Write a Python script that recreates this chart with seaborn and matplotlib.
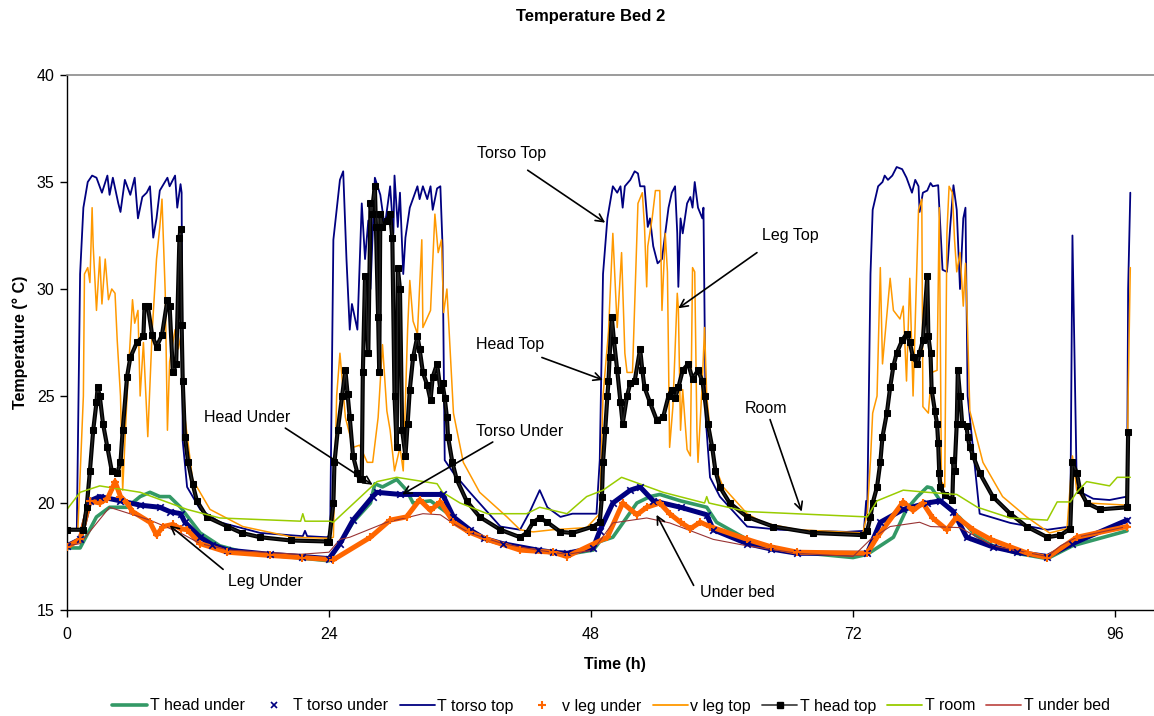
import matplotlib
matplotlib.use('Agg')
import matplotlib.pyplot as plt
import seaborn as sns
from matplotlib.lines import Line2D

# time axis in hours, values in deg C
HEAD_UNDER_T = [0, 1.2, 2.7, 3.9, 5.5, 6.7, 7.6, 8.5, 9.4, 10.4, 11.3, 12.2, 14.0, 15.8, 17.7, 21.0, 24.0,
                25.0, 26.2, 27.8, 28.2, 28.9, 30.2, 31.1, 31.7, 33.3, 34.4, 35.4, 36.9, 38.2, 39.9, 43.1,
                45.8, 48.2, 48.8, 50.0, 52.2, 53.4, 54.3, 56.2, 58.6, 59.5, 62.3, 64.5, 66.9, 72.0, 73.3,
                75.7, 76.9, 77.9, 78.8, 79.2, 80.0, 81.8, 83.2, 84.8, 87.0, 89.8, 92.1, 97.1]
HEAD_UNDER = [17.9, 17.9, 19.35, 19.8, 19.8, 20.3, 20.5, 20.3, 20.3, 19.8, 19.2, 18.6, 18.0, 17.75, 17.6,
              17.45, 17.3,
              18.1, 19.1, 20.0, 20.9, 20.75, 21.1, 20.6, 20.0, 20.1, 19.7, 19.3, 18.7, 18.35, 18.1, 17.8,
              17.6, 17.8, 18.2, 18.4, 20.0, 20.3, 20.4, 20.1, 19.8, 19.1, 18.3, 17.9, 17.7, 17.45, 17.6,
              18.4, 19.7, 20.3, 20.75, 20.7, 20.1, 19.3, 18.5, 18.0, 17.65, 17.4, 18.0, 18.7]

TORSO_UNDER_T = [0, 1.2, 2.1, 3.0, 4.9, 6.7, 8.5, 9.4, 10.4, 10.8, 12.2, 13.3, 14.7, 18.6, 21.5, 24.0,
                 25.0, 26.2, 28.0, 28.4, 30.5, 34.4, 35.4, 36.9, 38.2, 39.9, 43.1, 44.5, 45.8, 48.2, 48.8,
                 50.0, 51.6, 52.5, 53.7, 56.2, 58.6, 59.2, 62.3, 64.5, 66.9, 73.3, 74.5, 76.6, 78.8, 80.0,
                 81.2, 82.4, 84.8, 87.0, 89.8, 92.1, 97.1]
TORSO_UNDER = [18.0, 18.3, 20.1, 20.3, 20.1, 19.9, 19.8, 19.6, 19.5, 19.1, 18.4, 18.05, 17.8, 17.6, 17.5,
               17.4,
               18.1, 19.2, 20.3, 20.5, 20.4, 20.4, 19.35, 18.75, 18.35, 18.1, 17.8, 17.7, 17.65, 17.9, 18.7,
               20.0, 20.6, 20.75, 20.1, 19.8, 19.45, 18.75, 18.1, 17.85, 17.65, 17.65, 19.1, 19.7, 20.0,
               20.1, 19.6, 18.4, 17.95, 17.7, 17.5, 18.1, 19.2]

TORSO_TOP_T = [0, 0.9, 1.2, 1.5, 1.9, 2.3, 2.7, 3.2, 3.7, 3.9, 4.2, 4.7, 4.9, 5.3, 5.8, 6.2, 6.5, 6.9,
               7.3, 7.6, 7.9, 8.2, 8.5, 9.2, 9.4, 9.9, 10.1, 10.4, 10.5, 10.6, 11.0, 12.2, 14.0, 17.7,
               21.6, 21.8, 22.0, 23.8,
               24.1, 24.4, 25.0, 25.3, 25.6, 25.9, 26.1, 26.6, 27.0, 27.3, 27.6, 27.8, 28.2, 28.7, 29.1,
               29.6, 29.9, 30.0, 30.3, 30.5, 30.8, 31.0, 31.4, 32.1, 32.3, 32.6, 33.0, 33.3, 33.5, 33.9,
               34.2, 34.4, 34.6, 35.4, 36.9, 39.7, 41.5, 42.4, 43.3, 44.0, 45.2, 46.3, 48.5,
               48.8, 49.1, 49.5, 50.0, 50.4, 50.7, 50.9, 51.1, 51.6, 52.0, 52.3, 52.5, 52.9, 53.2, 53.4,
               53.7, 54.1, 54.5, 54.8, 55.1, 55.4, 55.7, 55.9, 56.0, 56.2, 56.4, 56.8, 57.1, 57.3, 57.5,
               57.8, 58.2, 58.3, 58.5, 58.9, 59.8, 62.3, 65.3, 71.4, 73.0, 73.2, 73.3,
               73.6, 73.8, 74.3, 74.7, 74.9, 75.2, 75.6, 76.0, 76.5, 76.9, 77.4, 77.7, 78.0, 78.1, 78.4,
               78.8, 79.1, 79.3, 79.8, 80.0, 80.2, 80.6, 80.7, 80.9, 81.2, 81.5, 81.8, 82.1, 82.3, 82.5,
               83.6, 86.4, 89.8, 91.9, 92.1, 92.5, 94.0, 95.5, 97.1, 97.2, 97.4]
TORSO_TOP = [18.7, 18.8, 30.7, 33.8, 35.0, 35.3, 35.2, 34.5, 35.3, 34.4, 35.2, 34.0, 33.6, 35.1, 34.4, 35.2,
             33.3, 34.3, 34.5, 34.8, 32.4, 33.3, 34.6, 35.2, 34.8, 35.3, 33.8, 34.9, 34.5, 22.9, 20.75,
             19.7, 19.1, 18.6, 18.45, 18.7, 18.45, 18.4,
             18.5, 32.3, 35.1, 35.5, 31.4, 28.1, 29.3, 28.1, 34.0, 31.4, 33.2, 30.0, 35.2, 34.4, 32.9,
             34.8, 32.6, 35.3, 32.9, 34.5, 30.7, 32.4, 33.8, 34.8, 34.2, 34.8, 34.2, 34.8, 33.7, 34.7,
             34.8, 32.0, 22.0, 21.4, 20.5, 18.9, 18.75, 19.6, 20.6, 19.8, 19.35, 19.5, 19.5,
             22.0, 30.7, 33.3, 34.8, 34.5, 34.8, 33.8, 34.8, 35.1, 35.5, 35.4, 34.8, 34.8, 32.9, 33.3,
             32.0, 31.2, 31.4, 32.6, 33.8, 34.5, 34.8, 32.6, 30.1, 33.3, 32.6, 34.0, 34.3, 33.8, 35.0,
             33.8, 33.3, 33.8, 24.0, 21.2, 20.3, 18.9, 18.75, 18.65, 18.7, 20.1, 19.5,
             30.7, 33.7, 34.8, 35.0, 35.3, 35.1, 35.3, 35.7, 35.6, 35.2, 34.5, 35.1, 34.8, 33.6, 34.5,
             34.6, 34.95, 34.8, 34.85, 32.9, 30.9, 30.8, 31.4, 32.9, 34.85, 33.7, 30.0, 33.3, 33.8, 25.0,
             19.5, 19.07, 18.75, 18.9, 32.5, 20.6, 20.2, 20.14, 20.3, 30.0, 34.5]

LEG_UNDER_T = [0, 1.2, 2.1, 3.0, 3.7, 4.2, 4.4, 4.9, 5.5, 6.0, 7.6, 8.2, 8.8, 9.7, 10.4, 11.0, 12.2,
               14.7, 18.6, 21.5, 24.4, 27.8, 29.6, 31.1, 32.3, 33.3, 34.2, 35.4, 36.8, 38.5, 41.5, 44.5,
               45.8, 49.5, 50.9, 52.2, 53.1, 54.3, 55.2, 56.2, 57.1, 58.0, 58.9, 62.3, 64.5, 66.9, 73.3,
               74.2, 76.6, 77.5, 78.4, 79.3, 80.6, 81.5, 83.0, 84.6, 86.4, 88.0, 89.8, 92.5, 97.1]
LEG_UNDER = [17.95, 18.3, 20.1, 20.0, 20.2, 20.75, 21.0, 20.3, 20.0, 19.6, 19.1, 18.5, 18.9, 19.0, 18.8,
             18.75, 18.1, 17.7, 17.55, 17.45, 17.35, 18.4, 19.2, 19.35, 20.15, 19.65, 20.05, 19.1, 18.65,
             18.3, 17.8, 17.7, 17.5, 18.4, 20.0, 19.45, 19.8, 20.0, 19.5, 19.1, 18.8, 19.1, 18.9, 18.3,
             17.95, 17.7, 17.65, 18.4, 20.05, 19.65, 20.0, 19.3, 18.75, 19.35, 18.75, 18.3, 17.95, 17.65,
             17.45, 18.4, 18.9]

LEG_TOP_T = [0, 1.0, 1.5, 1.6, 1.9, 2.1, 2.3, 2.4, 2.7, 3.0, 3.2, 3.5, 3.8, 4.1, 4.4, 4.6, 4.9, 5.1, 5.5,
             6.0, 6.2, 6.5, 6.7, 7.0, 7.4, 7.8, 8.2, 8.5, 8.7, 9.0, 9.2, 9.4, 9.9, 10.2, 10.5, 10.8, 11.5,
             13.1, 16.1, 20.7, 24.1,
             24.4, 24.7, 25.0, 25.5, 26.2, 26.8, 27.5, 28.0, 28.5, 28.9, 29.3, 29.6, 30.0, 30.5, 30.8,
             31.2, 31.4, 31.7, 32.1, 32.5, 32.6, 33.3, 33.7, 34.0, 34.3, 34.5, 34.8, 35.4, 36.3, 37.8,
             40.3, 41.5, 42.7, 44.5, 47.6,
             48.8, 49.1, 49.6, 50.0, 50.4, 50.8, 51.1, 51.3, 51.8, 52.3, 52.7, 52.9, 53.1, 53.2, 53.6,
             53.9, 54.3, 54.5, 54.8, 55.0, 55.2, 55.5, 55.9, 56.0, 56.2, 56.4, 56.8, 57.1, 57.3, 57.5,
             57.7, 57.8, 58.2, 58.4, 58.6, 59.2, 60.1, 62.3, 63.8, 66.9, 72.9,
             73.3, 73.6, 73.8, 74.2, 74.5, 74.7, 75.4, 75.7, 76.3, 76.6, 76.9, 77.2, 77.5, 78.0, 78.3,
             78.4, 78.9, 79.2, 79.7, 79.9, 80.1, 80.4, 80.6, 80.8, 81.1, 81.3, 81.5, 81.8, 82.1, 82.3,
             82.5, 82.7, 83.9, 85.7, 87.9, 90.0, 91.6, 92.1, 92.5, 93.4, 97.1, 97.2, 97.4]
LEG_TOP = [18.7, 18.8, 25.0, 30.7, 31.0, 30.3, 33.8, 32.0, 29.0, 31.5, 29.3, 31.4, 29.5, 30.0, 29.8, 27.6,
           25.0, 20.6, 25.0, 29.5, 28.4, 29.0, 25.0, 27.5, 23.1, 28.0, 31.4, 32.9, 34.2, 29.8, 23.4, 26.6,
           28.1, 27.2, 28.0, 24.0, 21.1, 19.7, 18.9, 18.4, 18.35,
           18.4, 25.0, 27.0, 24.0, 22.6, 22.7, 21.9, 21.9, 24.0, 27.4, 24.3, 23.4, 21.5, 22.6, 21.5,
           28.1, 30.4, 28.5, 27.9, 32.3, 28.2, 29.0, 33.5, 31.7, 32.3, 28.9, 30.0, 24.2, 21.9, 20.5,
           19.35, 18.75, 18.65, 18.75, 18.85,
           19.5, 25.0, 28.0, 32.6, 28.2, 31.7, 27.0, 26.1, 26.1, 34.0, 34.5, 32.9, 30.1, 32.0, 33.3,
           34.6, 34.6, 29.0, 32.6, 30.8, 22.6, 24.5, 29.8, 29.1, 23.4, 25.3, 22.5, 22.2, 31.0, 30.8,
           23.4, 21.9, 25.7, 28.2, 25.0, 21.9, 20.75, 19.5, 19.07, 18.75, 18.6,
           19.5, 22.0, 24.2, 25.0, 31.0, 26.5, 30.5, 29.0, 28.6, 29.2, 25.7, 30.5, 25.0, 33.7, 34.2,
           24.5, 24.2, 26.1, 26.2, 33.8, 21.0, 20.75, 32.6, 34.8, 34.5, 32.3, 30.8, 31.7, 29.2, 31.2,
           28.0, 24.3, 21.9, 20.3, 19.35, 18.6, 18.8, 22.2, 20.6, 20.0, 19.9, 25.0, 31.0]

HEAD_TOP_T = [0, 1.5, 1.8, 2.1, 2.4, 2.7, 2.8, 3.0, 3.3, 3.7, 4.1, 4.6, 4.9, 5.1, 5.5, 5.8, 6.4, 7.0,
              7.1, 7.4, 7.8, 8.2, 8.7, 9.2, 9.4, 9.7, 10.0, 10.3, 10.4, 10.5, 10.6, 10.8, 11.1, 11.5,
              11.9, 12.8, 14.7, 16.0, 17.7, 20.5, 23.8,
              24.0, 24.4, 24.5, 24.8, 25.2, 25.5, 25.7, 25.9, 26.2, 26.6, 26.8, 27.0, 27.1, 27.3, 27.6,
              27.8, 27.9, 28.2, 28.3, 28.5, 28.6, 28.7, 28.9, 29.3, 29.6, 29.8, 30.0, 30.2, 30.3, 30.5,
              30.7, 31.0, 31.2, 31.4, 31.7, 32.1, 32.3, 32.6, 33.0, 33.3, 33.5, 33.9, 34.2, 34.4, 34.6,
              34.8, 34.9, 35.3, 35.7, 36.6, 37.8, 39.7, 41.5, 42.1, 42.7, 43.3, 44.0, 45.2, 46.3, 48.2,
              48.8,
              49.0, 49.1, 49.3, 49.5, 49.6, 49.7, 49.9, 50.1, 50.4, 50.7, 50.9, 51.3, 51.6, 52.0, 52.5,
              52.7, 52.9, 53.4, 54.0, 54.6, 55.1, 55.4, 55.7, 56.0, 56.4, 56.9, 57.3, 57.8, 58.2, 58.4,
              58.7, 59.1, 59.4, 59.8, 60.7, 62.3, 64.7, 68.3, 72.9,
              73.3, 73.6, 73.8, 74.2, 74.5, 74.7, 75.1, 75.4, 75.7, 76.0, 76.5, 76.9, 77.2, 77.5, 77.9,
              78.1, 78.4, 78.8, 78.9, 79.1, 79.2, 79.5, 79.7, 79.8, 79.9, 80.0, 80.4, 81.1, 81.2, 81.3,
              81.5, 81.6, 81.8, 82.0, 82.4, 82.5, 82.7, 83.0, 83.6, 84.8, 86.4, 87.9, 89.8, 91.0, 91.9,
              92.1, 92.5, 92.8, 93.4, 94.6, 97.1, 97.2]
HEAD_TOP = [18.75, 18.75, 19.8, 21.5, 23.4, 24.7, 25.4, 25.0, 23.7, 22.6, 21.5, 21.4, 21.9, 23.4, 25.9,
            26.8, 27.5, 27.8, 29.2, 29.2, 27.85, 27.3, 27.85, 29.5, 29.2, 26.1, 26.5, 32.4, 32.8, 28.3,
            25.7, 23.1, 21.9, 20.9, 20.1, 19.35, 18.9, 18.6, 18.4, 18.25, 18.2,
            18.2, 20.0, 21.9, 23.4, 25.0, 26.2, 25.1, 24.0, 22.2, 21.4, 21.1, 21.1, 26.1, 30.6, 27.0,
            34.0, 33.5, 34.8, 32.9, 28.7, 26.1, 33.5, 32.9, 33.2, 33.5, 32.4, 25.0, 22.6, 31.0, 30.0,
            23.4, 22.2, 23.7, 25.3, 26.8, 27.8, 27.2, 26.1, 25.5, 24.8, 25.9, 26.5, 25.3, 25.6, 24.9,
            24.0, 23.1, 21.9, 21.1, 20.1, 19.35, 18.75, 18.4, 18.6, 19.1, 19.3, 19.1, 18.65, 18.6, 18.9,
            19.1,
            20.3, 21.9, 23.4, 25.0, 25.7, 26.8, 28.7, 27.6, 26.2, 24.7, 23.7, 25.0, 25.6, 25.7, 27.2,
            26.2, 25.4, 24.7, 23.9, 24.0, 25.0, 25.3, 24.9, 25.4, 26.2, 26.5, 25.8, 26.2, 25.7, 25.0,
            23.7, 22.6, 21.5, 20.75, 20.0, 19.35, 18.9, 18.6, 18.5,
            18.7, 19.35, 20.0, 20.75, 21.9, 23.1, 24.2, 25.4, 26.4, 27.0, 27.6, 27.9, 27.5, 26.8, 26.5,
            27.0, 27.6, 30.6, 27.8, 27.0, 25.3, 24.3, 23.7, 22.8, 21.4, 20.75, 20.37, 20.14, 22.0, 21.5,
            23.7, 26.2, 25.0, 23.7, 23.6, 23.1, 22.6, 22.2, 21.4, 20.3, 19.5, 18.9, 18.4, 18.5, 18.8,
            21.9, 21.4, 20.6, 20.0, 19.7, 19.8, 23.3]

ROOM_T = [0, 1.2, 3.0, 6.7, 11.0, 14.0, 21.4, 21.6, 21.8, 24.1, 24.4, 28.4, 30.2, 33.9, 34.4, 36.0,
          38.5, 42.1, 43.3, 45.8, 47.6, 49.1, 50.8, 54.6, 58.4, 58.6, 58.8, 62.3, 73.3, 74.2, 76.6, 78.8,
          81.5, 83.4, 86.4, 89.8, 90.7, 91.9, 92.5, 93.4, 95.5, 96.2, 97.4]
ROOM = [19.7, 20.5, 20.8, 20.5, 19.7, 19.3, 19.15, 19.5, 19.15, 19.15, 19.1, 21.0, 21.2, 20.9, 20.5, 20.0,
        19.5, 19.5, 19.8, 19.5, 20.3, 20.6, 21.2, 20.5, 20.0, 20.3, 20.0, 19.6, 19.35, 20.1, 20.6, 20.5,
        20.4, 19.8, 19.3, 19.2, 20.05, 20.05, 20.5, 21.0, 20.8, 21.2, 21.2]

UNDER_BED_T = [0, 1.2, 3.9, 7.6, 10.4, 12.2, 14.9, 21.3, 24.0, 25.0, 25.9, 29.3, 31.4, 32.6, 34.2, 35.5,
               36.9, 39.9, 43.1, 45.8, 48.2, 50.0, 53.1, 55.2, 56.2, 59.2, 62.3, 66.9, 72.0, 73.6, 75.4,
               78.1, 79.1, 81.8, 84.8, 89.8, 91.0, 92.5, 97.1]
UNDER_BED = [18.0, 18.1, 19.8, 19.2, 18.6, 18.1, 17.8, 17.6, 17.7, 18.3, 18.4, 19.1, 19.35, 19.5, 19.45,
             19.0, 18.6, 18.1, 17.8, 17.6, 17.8, 19.07, 19.3, 19.07, 18.88, 18.3, 18.0, 17.65, 17.5, 18.3,
             18.9, 19.1, 18.9, 18.85, 18.0, 17.5, 18.0, 18.4, 18.9]

LABELS = ['T head under', 'T torso under', 'T torso top', 'v leg under',
          'v leg top', 'T head top', 'T room', 'T under bed']
X_TICKS = [0, 24, 48, 72, 96]
Y_TICKS = [15, 20, 25, 30, 35, 40]

# (label, text position, arrow start, arrow tip) in data units
NOTES = [
    ('Torso Top', (40.7, 36.35), (42.2, 35.55), (49.3, 33.1)),
    ('Leg Top', (66.3, 32.5), (63.2, 31.7), (56.0, 29.1)),
    ('Head Top', (40.6, 27.4), (43.5, 26.8), (49.1, 25.75)),
    ('Head Under', (16.5, 24.0), (20.0, 23.5), (28.0, 20.85)),
    ('Torso Under', (41.5, 23.35), (39.0, 22.85), (30.7, 20.4)),
    ('Room', (64.0, 24.4), (64.4, 23.9), (67.3, 19.6)),
    ('Under bed', (61.4, 15.8), (57.4, 16.15), (54.0, 19.45)),
    ('Leg Under', (18.2, 16.35), (14.3, 16.9), (9.4, 18.95)),
]

GREEN = '#339966'
NAVY = '#000080'
ORANGE_RED = '#FF6600'
ORANGE = '#FF9900'
LIME = '#99CC00'
BROWN = '#993333'


def plot_bed(save_path):
    sns.set_theme(style="white")
    plt.rcParams['font.family'] = ['Liberation Sans', 'DejaVu Sans']
    plt.rcParams['text.color'] = 'black'

    fig = plt.figure(figsize=(11.54, 7.16), dpi=100)
    ax = fig.add_axes([67 / 1154, 1 - 610 / 716, 1087 / 1154, 535 / 716])

    sns.lineplot(x=HEAD_UNDER_T, y=HEAD_UNDER, ax=ax, color=GREEN, linewidth=2.6,
                 estimator=None, sort=False)
    # dense marker series drawn as a thick band plus the markers
    sns.lineplot(x=TORSO_UNDER_T, y=TORSO_UNDER, ax=ax, color=NAVY, linewidth=3.6,
                 estimator=None, sort=False)
    sns.scatterplot(x=TORSO_UNDER_T, y=TORSO_UNDER, ax=ax, color=NAVY, marker='x',
                    s=22, linewidth=1.2, zorder=3)
    sns.lineplot(x=TORSO_TOP_T, y=TORSO_TOP, ax=ax, color=NAVY, linewidth=1.3,
                 estimator=None, sort=False)
    sns.lineplot(x=LEG_UNDER_T, y=LEG_UNDER, ax=ax, color=ORANGE_RED, linewidth=3.6,
                 estimator=None, sort=False)
    sns.scatterplot(x=LEG_UNDER_T, y=LEG_UNDER, ax=ax, color=ORANGE_RED, marker='+',
                    s=36, linewidth=1.5, zorder=3)
    sns.lineplot(x=LEG_TOP_T, y=LEG_TOP, ax=ax, color=ORANGE, linewidth=1.1,
                 estimator=None, sort=False)
    sns.lineplot(x=HEAD_TOP_T, y=HEAD_TOP, ax=ax, color='black', linewidth=3.0,
                 estimator=None, sort=False)
    sns.lineplot(x=HEAD_TOP_T, y=HEAD_TOP, ax=ax, color='#222222', linewidth=1.0,
                 marker='s', markersize=5, markeredgecolor='black', markerfacecolor='black',
                 estimator=None, sort=False)
    sns.lineplot(x=ROOM_T, y=ROOM, ax=ax, color=LIME, linewidth=1.1,
                 estimator=None, sort=False)
    sns.lineplot(x=UNDER_BED_T, y=UNDER_BED, ax=ax, color=BROWN, linewidth=0.8,
                 estimator=None, sort=False)

    for text, pos, start, tip in NOTES:
        ax.annotate('', xy=tip, xytext=start,
                    arrowprops=dict(arrowstyle='->', color='black', lw=1.2,
                                    shrinkA=0, shrinkB=0, mutation_scale=14))
        ax.text(pos[0], pos[1], text, fontsize=11.5, ha='center', va='center')

    ax.set_xlim(0, 99.57)
    ax.set_ylim(15, 40)
    ax.set_xticks(X_TICKS)
    ax.set_yticks(Y_TICKS)
    ax.tick_params(axis='both', direction='out', length=5, width=1, colors='black',
                   labelsize=11.5, left=True, bottom=True)
    ax.tick_params(axis='x', pad=7)
    ax.tick_params(axis='y', pad=4)

    for side in ['left', 'bottom']:
        ax.spines[side].set_color('black')
        ax.spines[side].set_linewidth(1)
    ax.spines['top'].set_color('#8a8a8a')
    ax.spines['top'].set_linewidth(1.2)
    ax.spines['right'].set_visible(False)

    ax.set_xlabel('Time (h)', fontsize=11.5, fontweight='bold', color='black')
    ax.set_ylabel('Temperature (° C)', fontsize=11.5, fontweight='bold', color='black')
    ax.xaxis.set_label_coords(0.504, -0.088)
    ax.yaxis.set_label_coords(-0.036, 0.5)

    fig.text(591 / 1154, 1 - 17 / 716, 'Temperature Bed 2', fontsize=12, fontweight='bold',
             ha='center', va='center')

    handles = [
        Line2D([], [], color=GREEN, lw=2.6),
        Line2D([], [], color=NAVY, ls='none', marker='x', ms=5, mew=1.2),
        Line2D([], [], color=NAVY, lw=1.3),
        Line2D([], [], color=ORANGE_RED, ls='none', marker='+', ms=6, mew=1.5),
        Line2D([], [], color=ORANGE, lw=1.3),
        Line2D([], [], color='#444444', lw=1.3, marker='s', ms=5,
               markerfacecolor='black', markeredgecolor='black'),
        Line2D([], [], color=LIME, lw=1.3),
        Line2D([], [], color='#C0504D', lw=1.3),
    ]
    fig.legend(handles, LABELS, loc='center', bbox_to_anchor=(611 / 1154, 1 - 706 / 716),
               ncol=8, frameon=False, fontsize=11.5, handlelength=2.2, handletextpad=0.15,
               columnspacing=0.7, borderpad=0, borderaxespad=0)

    fig.savefig(save_path, dpi=100)
    plt.close(fig)


plot_bed('out.png')
